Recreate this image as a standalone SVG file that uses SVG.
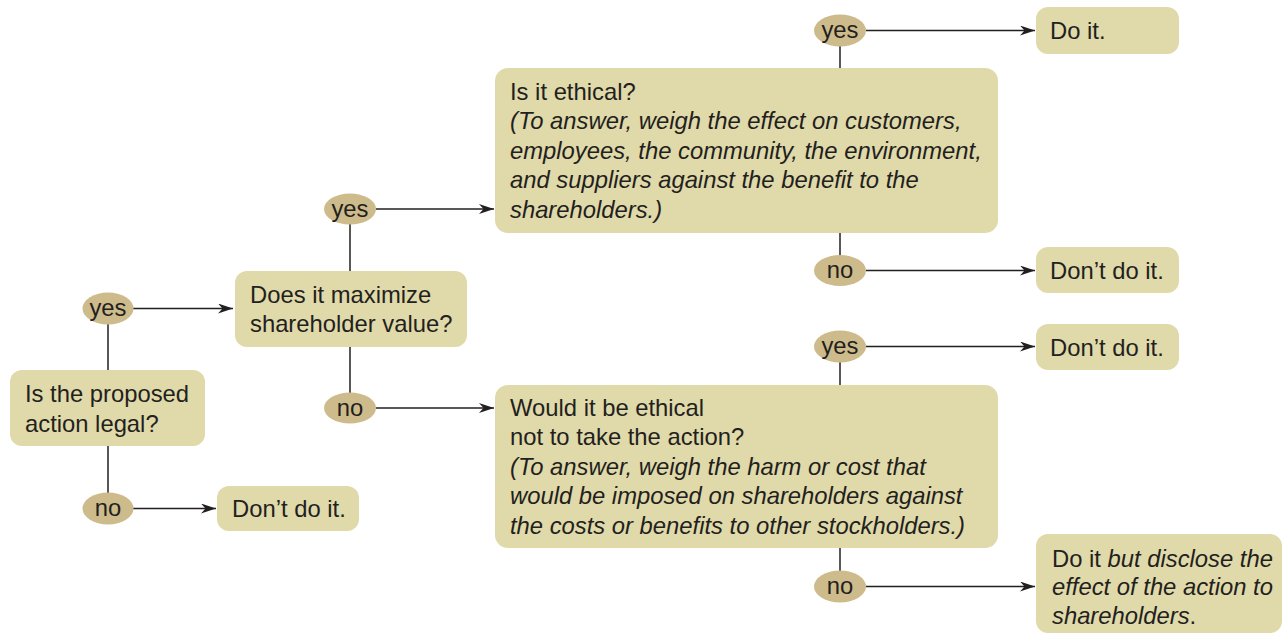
<svg xmlns="http://www.w3.org/2000/svg" width="1283" height="634" viewBox="0 0 1283 634">
<defs>
<marker id="arr" markerUnits="userSpaceOnUse" markerWidth="17" markerHeight="11" refX="15" refY="5" orient="auto">
<path d="M0,0 L15,5 L0,10 L4.5,5 z" fill="#231f20"/>
</marker>
</defs>
<style>
.box{fill:#e0d9a9}
.ell{fill:#cdbb8b}
text{font-family:"Liberation Sans",Arial,sans-serif;font-size:23.8px;fill:#231f20}
.c{text-anchor:middle}
.i{font-style:italic}
.ln{stroke:#231f20;stroke-width:1.5;fill:none}
.ar{stroke:#231f20;stroke-width:1.5;fill:none;marker-end:url(#arr)}
</style>
<rect width="1283" height="634" fill="#ffffff"/>
<g id="connectors">
<line class="ln" x1="108" y1="324" x2="108" y2="371"/>
<line class="ln" x1="108" y1="446" x2="108" y2="493"/>
<line class="ln" x1="350" y1="224" x2="350" y2="272"/>
<line class="ln" x1="350" y1="346" x2="350" y2="393"/>
<line class="ln" x1="840" y1="46" x2="840" y2="69"/>
<line class="ln" x1="840" y1="232" x2="840" y2="255"/>
<line class="ln" x1="840" y1="361" x2="840" y2="386"/>
<line class="ln" x1="840" y1="547" x2="840" y2="571"/>
<line class="ar" x1="133" y1="308.5" x2="233" y2="308.5"/>
<line class="ar" x1="133" y1="508.5" x2="216" y2="508.5"/>
<line class="ar" x1="376" y1="209" x2="494" y2="209"/>
<line class="ar" x1="376" y1="408" x2="494" y2="408"/>
<line class="ar" x1="866" y1="30.5" x2="1035" y2="30.5"/>
<line class="ar" x1="866" y1="270.5" x2="1035" y2="270.5"/>
<line class="ar" x1="866" y1="346.5" x2="1035" y2="346.5"/>
<line class="ar" x1="866" y1="586.5" x2="1035" y2="586.5"/>
</g>
<g id="legal">
<rect class="box" x="10" y="370" width="195" height="76" rx="12"/>
<text x="25" y="401.5">Is the proposed</text>
<text x="25" y="431.5">action legal?</text>
</g>
<g id="legal-yes"><ellipse class="ell" cx="108" cy="308.5" rx="25.5" ry="16"/><text class="c" x="108" y="316">yes</text></g>
<g id="legal-no"><ellipse class="ell" cx="108" cy="508.5" rx="25.5" ry="16"/><text class="c" x="108" y="516">no</text></g>
<g id="dont1">
<rect class="box" x="217" y="486" width="142" height="45" rx="12"/>
<text x="232" y="517">Don’t do it.</text>
</g>
<g id="maximize">
<rect class="box" x="235" y="271" width="232" height="76" rx="12"/>
<text x="250" y="302.5">Does it maximize</text>
<text x="250" y="331.5">shareholder value?</text>
</g>
<g id="max-yes"><ellipse class="ell" cx="350" cy="209" rx="26" ry="15.5"/><text class="c" x="350" y="216.5">yes</text></g>
<g id="max-no"><ellipse class="ell" cx="350" cy="408" rx="26" ry="15.5"/><text class="c" x="350" y="415.5">no</text></g>
<g id="ethical">
<rect class="box" x="495" y="68" width="503" height="165" rx="13"/>
<text x="510" y="99.5">Is it ethical?</text>
<text class="i" x="510" y="129">(To answer, weigh the effect on customers,</text>
<text class="i" x="510" y="158.5">employees, the community, the environment,</text>
<text class="i" x="510" y="188">and suppliers against the benefit to the</text>
<text class="i" x="510" y="217.5">shareholders.)</text>
</g>
<g id="eth-yes"><ellipse class="ell" cx="840" cy="30.5" rx="26" ry="16"/><text class="c" x="840" y="38">yes</text></g>
<g id="eth-no"><ellipse class="ell" cx="840" cy="270.5" rx="26" ry="15.5"/><text class="c" x="840" y="278">no</text></g>
<g id="doit">
<rect class="box" x="1036" y="7" width="143" height="47" rx="12"/>
<text x="1050" y="39">Do it.</text>
</g>
<g id="dont2">
<rect class="box" x="1036" y="247" width="143" height="46" rx="12"/>
<text x="1050" y="278.5">Don’t do it.</text>
</g>
<g id="would">
<rect class="box" x="495" y="385" width="503" height="163" rx="13"/>
<text x="510" y="415.5">Would it be ethical</text>
<text x="510" y="445">not to take the action?</text>
<text class="i" x="510" y="474.5">(To answer, weigh the harm or cost that</text>
<text class="i" x="510" y="504">would be imposed on shareholders against</text>
<text class="i" x="510" y="533.5">the costs or benefits to other stockholders.)</text>
</g>
<g id="would-yes"><ellipse class="ell" cx="840" cy="346.5" rx="26" ry="16"/><text class="c" x="840" y="354">yes</text></g>
<g id="would-no"><ellipse class="ell" cx="840" cy="586.5" rx="26" ry="16"/><text class="c" x="840" y="594">no</text></g>
<g id="dont3">
<rect class="box" x="1036" y="324" width="143" height="46" rx="12"/>
<text x="1050" y="355.5">Don’t do it.</text>
</g>
<g id="disclose">
<rect class="box" x="1036" y="534" width="246" height="99" rx="12"/>
<text x="1052" y="566.5">Do it <tspan class="i">but disclose the</tspan></text>
<text class="i" x="1052" y="595">effect of the action to</text>
<text x="1052" y="623.5"><tspan class="i">shareholders</tspan>.</text>
</g>
</svg>
